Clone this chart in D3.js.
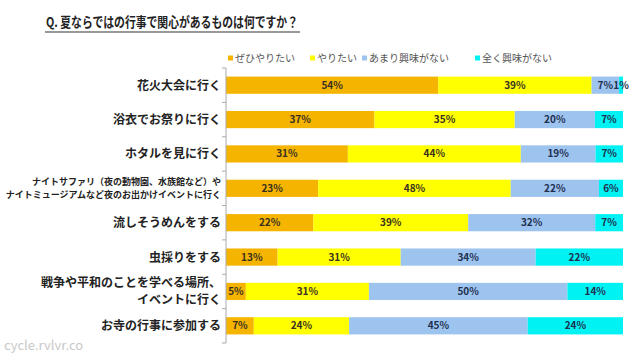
<!DOCTYPE html>
<html>
<head>
<meta charset="utf-8">
<script src="https://cdn.jsdelivr.net/npm/d3@7"></script>
<style>
  body { margin: 0; background: #fff; }
  text { font-family: "Noto Sans CJK JP", "Noto Sans", sans-serif; }
</style>
</head>
<body>
<div id="chart"></div>
<script>
// categories (top to bottom)
const categories = [
  ["花火大会に行く"],
  ["浴衣でお祭りに行く"],
  ["ホタルを見に行く"],
  ["ナイトサファリ（夜の動物園、水族館など）や", "ナイトミュージアムなど夜のお出かけイベントに行く"],
  ["流しそうめんをする"],
  ["虫採りをする"],
  ["戦争や平和のことを学べる場所、", "イベントに行く"],
  ["お寺の行事に参加する"]
];
const seriesNames = ["ぜひやりたい", "やりたい", "あまり興味がない", "全く興味がない"];
const seriesColors = ["#f5b400", "#ffff00", "#9dc3ef", "#00f2f2"];

// values per series (%)
const zehi = [54, 37, 31, 23, 22, 13, 5, 7];
const yaritai = [39, 35, 44, 48, 39, 31, 31, 24];
const amari = [7, 20, 19, 22, 32, 34, 50, 45];
const mattaku = [1, 7, 7, 6, 7, 22, 14, 24];
const series = [zehi, yaritai, amari, mattaku];

const width = 640, height = 354;
const svg = d3.select("#chart").append("svg")
  .attr("width", width).attr("height", height);

// title
svg.append("text")
  .attr("x", 46).attr("y", 27)
  .attr("font-size", "13.5px").attr("font-weight", "bold").attr("fill", "#222")
  .attr("textLength", 252).attr("lengthAdjust", "spacingAndGlyphs")
  .text("Q.  夏ならではの行事で関心があるものは何ですか？");
svg.append("line")
  .attr("x1", 45).attr("x2", 300).attr("y1", 32).attr("y2", 32)
  .attr("stroke", "#333").attr("stroke-width", 1.2);

// scales
const x = d3.scaleLinear().domain([0, 1]).range([226, 623]);
const y = d3.scaleBand().domain(d3.range(categories.length))
  .range([68, 343]).paddingInner(0.5).paddingOuter(0.25);

// build stacked (normalized) rows
const rows = categories.map((c, i) => {
  const vals = series.map(s => s[i]);
  const total = d3.sum(vals);
  let acc = 0;
  return vals.map((v, k) => {
    const seg = { row: i, k: k, v: v, x0: acc / total, x1: (acc + v) / total };
    acc += v;
    return seg;
  });
});

svg.append("g").selectAll("rect")
  .data(rows.flat())
  .join("rect")
  .attr("x", d => x(d.x0))
  .attr("y", d => y(d.row))
  .attr("width", d => x(d.x1) - x(d.x0))
  .attr("height", y.bandwidth())
  .attr("fill", d => seriesColors[d.k]);

// value labels
svg.append("g").selectAll("text")
  .data(rows.flat())
  .join("text")
  .attr("x", d => (x(d.x0) + x(d.x1)) / 2)
  .attr("y", d => y(d.row) + y.bandwidth() / 2 + 3.5)
  .attr("text-anchor", "middle")
  .attr("font-size", "10px").attr("font-weight", "bold")
  .attr("font-family", "Arial, 'Liberation Sans', sans-serif")
  .attr("fill", d => d.k >= 2 ? "#1f2f4f" : "#3a3020")
  .text(d => d.v + "%");

// axis line and ticks
const step = y.step();
svg.append("line")
  .attr("x1", 226).attr("x2", 226).attr("y1", 68).attr("y2", 343)
  .attr("stroke", "#aaa");
svg.append("g").selectAll("line")
  .data(d3.range(categories.length + 1))
  .join("line")
  .attr("x1", 222).attr("x2", 226)
  .attr("y1", d => 68 + d * step).attr("y2", d => 68 + d * step)
  .attr("stroke", "#aaa");

// category labels
const labels = svg.append("g").selectAll("text")
  .data(categories)
  .join("text")
  .attr("text-anchor", "end")
  .attr("font-weight", "bold")
  .attr("fill", "#222")
  .attr("font-size", d => d[0].length > 18 ? "9px" : "12px");
labels.each(function (d, i) {
  const cy = y(i) + y.bandwidth() / 2;
  const lh = d[0].length > 18 ? 12.5 : 17;
  const n = d.length;
  d.forEach((line, j) => {
    d3.select(this).append("tspan")
      .attr("x", 221)
      .attr("y", cy + (j - (n - 1) / 2) * lh + (d[0].length > 18 ? 3 : 4.5))
      .text(line);
  });
});

// legend
const legendX = [228, 310, 362, 475];
const legend = svg.append("g").selectAll("g")
  .data(seriesNames)
  .join("g")
  .attr("transform", (d, i) => `translate(${legendX[i]}, 58)`);
legend.append("rect")
  .attr("x", 0).attr("y", -2.5).attr("width", 5).attr("height", 5)
  .attr("fill", (d, i) => seriesColors[i]);
legend.append("text")
  .attr("x", 7).attr("y", 3.5)
  .attr("font-size", "10px").attr("fill", "#555")
  .text(d => d);

// watermark
svg.append("text")
  .attr("x", 4).attr("y", 350)
  .attr("font-size", "13px").attr("fill", "#c8c8c8")
  .attr("font-family", "'Open Sans', 'DejaVu Sans', sans-serif")
  .text("cycle.rvlvr.co");
</script>
</body>
</html>
